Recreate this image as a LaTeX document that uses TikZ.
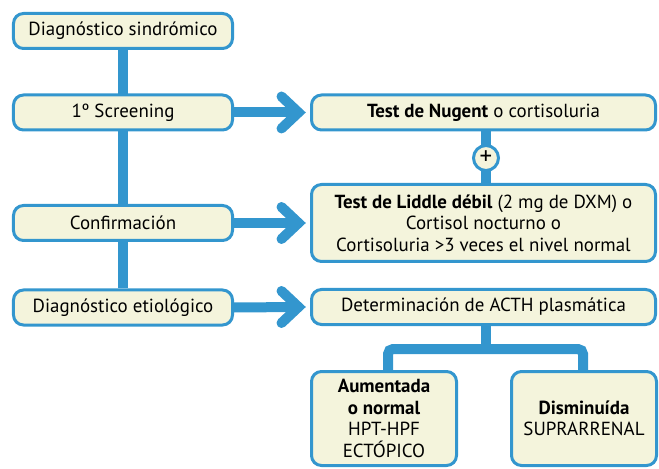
\documentclass[tikz,border=0pt]{standalone}
\usepackage{fontspec}
\setmainfont{PT Sans}
\usetikzlibrary{backgrounds}
\definecolor{bl}{RGB}{51,150,206}
\definecolor{cream}{RGB}{244,244,220}
\begin{document}
\begin{tikzpicture}[x=1bp,y=-1bp,
  box/.style={draw=bl, line width=3bp, fill=cream, rounded corners=10bp, align=center,
    inner sep=0pt, text=black, font=\fontsize{19}{21.5}\selectfont},
  lbox/.style={box, minimum width=219bp, minimum height=35bp},
  rbox/.style={box, minimum width=344bp, minimum height=35bp},
  bbox/.style={box, minimum width=145bp, minimum height=94bp},
  conn/.style={draw=bl, line width=10bp},
  chev/.style={draw=bl, line width=10bp, line cap=round, miter limit=10}]
\useasboundingbox (0,0) rectangle (659,469);
% left column
\node[lbox] (sind) at (123,31) {Diagnóstico sindrómico};
\node[lbox] (scr)  at (123,112.5) {1º Screening};
\node[lbox] (conf) at (123,223) {Confirmación};
\node[lbox] (etio) at (123,307.5) {Diagnóstico etiológico};
% right column
\node[rbox] (nug) at (483.5,112.5) {\textbf{Test de Nugent} o cortisoluria};
\node[rbox, minimum height=77bp] (lid) at (483.5,223)
  {\textbf{Test de Liddle débil} (2 mg de DXM) o\\Cortisol nocturno o\\Cortisoluria >3 veces el nivel normal};
\node[rbox] (det) at (483.5,307) {Determinación de ACTH plasmática};
\node[draw=bl, line width=3bp, fill=cream, circle, minimum size=25bp, inner sep=0pt,
  font=\fontsize{25}{25}\selectfont] (plus) at (486,158) {\raisebox{1bp}{+}};
% bottom
\node[bbox] (aum) at (384,418.5) {\textbf{Aumentada}\\\textbf{o normal}\\HPT-HPF\\ECTÓPICO};
\node[bbox] (dis) at (584,418.5) {\textbf{Disminuída}\\SUPRARRENAL};
\coordinate (tl) at (388,349);
\coordinate (tr) at (583,349);
\coordinate (tj) at (486,349);
\begin{pgfonlayer}{background}
  \draw[conn] (sind.south) -- (etio.north);
  \draw[conn] (nug.south -| plus) -- (lid.north -| plus);
  \draw[conn] (det.south -| tj) -- (tj);
  \draw[conn, rounded corners=5bp] (aum.north -| tl) -- (tl) -- (tr) -- (dis.north -| tr);
  \foreach \a/\b in {scr/nug, conf/lid, etio/det}{
    \draw[conn] (\a.east) -- ([xshift=-11.5bp]\b.west);
    \draw[chev] ([xshift=-28.5bp,yshift=16bp]\b.west) -- ([xshift=-11.5bp]\b.west)
      -- ([xshift=-28.5bp,yshift=-16bp]\b.west);
  }
\end{pgfonlayer}
\end{tikzpicture}
\end{document}
